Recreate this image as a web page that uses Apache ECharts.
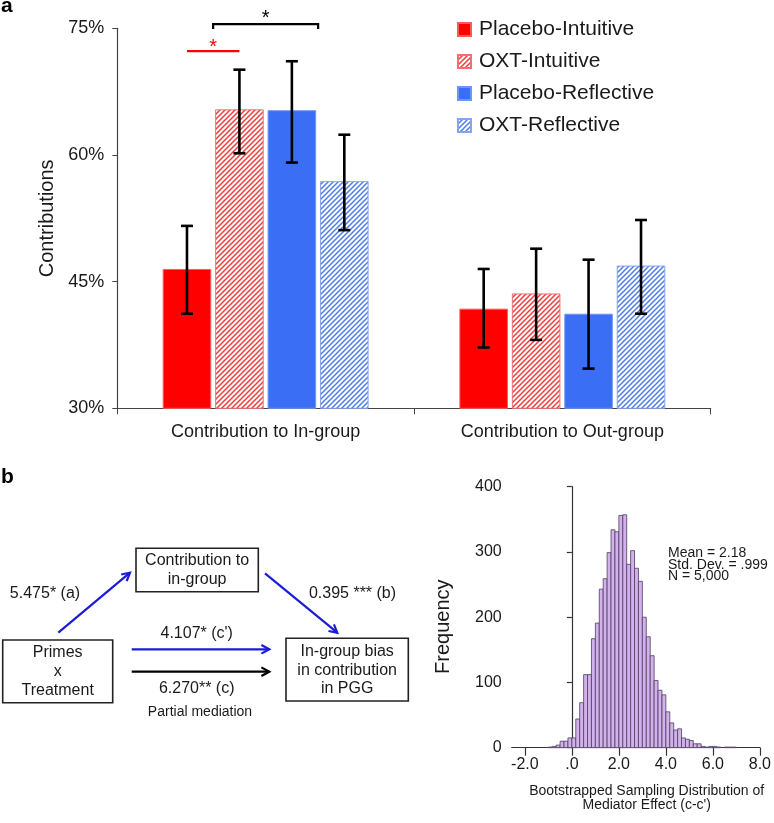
<!DOCTYPE html>
<html><head><meta charset="utf-8">
<script src="https://cdn.jsdelivr.net/npm/echarts@6/dist/echarts.min.js"></script>
<style>html,body{margin:0;padding:0;background:#fff}#c{width:774px;height:823px}</style>
</head><body><div id="c"></div>
<script>
// ---------- Panel a data ----------
const groups = ['Contribution to In-group', 'Contribution to Out-group'];
const seriesNames = ['Placebo-Intuitive', 'OXT-Intuitive', 'Placebo-Reflective', 'OXT-Reflective'];
const placeboIntuitive = [46.5, 41.8];
const oxtIntuitive = [65.4, 43.6];
const placeboReflective = [65.3, 41.2];
const oxtReflective = [56.9, 46.9];
const placeboIntuitiveLow = [41.2, 37.2];
const placeboIntuitiveHigh = [51.6, 46.5];
const oxtIntuitiveLow = [60.2, 38.1];
const oxtIntuitiveHigh = [70.1, 48.9];
const placeboReflectiveLow = [59.1, 34.7];
const placeboReflectiveHigh = [71.1, 47.6];
const oxtReflectiveLow = [51.1, 41.2];
const oxtReflectiveHigh = [62.4, 52.3];
const yTicksA = [30, 45, 60, 75];

// ---------- Panel b histogram data ----------
const histBinStart = -1;
const histBinWidth = 1 / 6;
const histCounts = [1, 2, 4, 10, 10, 15, 15, 44, 69, 112, 112, 167, 191, 243, 259, 299, 334, 331,
  356, 357, 281, 302, 275, 255, 200, 170, 141, 103, 88, 81, 55, 38, 27, 29, 15, 13, 11, 6, 6,
  2, 1, 2, 2, 1, 0, 1, 1, 1];
const histTickValues = [-2, 0, 2, 4, 6, 8];
const histTickLabels = ['-2.0', '.0', '2.0', '4.0', '6.0', '8.0'];
const histYTicks = [0, 100, 200, 300, 400];

const FONT = "'Liberation Sans', Arial, sans-serif";
const TXT = '#1a1a1a';
const RED = '#ff0000', BLUE = '#3a6ef5';

function hatch(color) {
  const s = 5, cv = document.createElement('canvas');
  cv.width = s; cv.height = s;
  const g = cv.getContext('2d');
  g.fillStyle = '#ffffff'; g.fillRect(0, 0, s, s);
  g.strokeStyle = color; g.lineWidth = 1.5;
  g.beginPath();
  g.moveTo(0, s); g.lineTo(s, 0);
  g.moveTo(-1, 1); g.lineTo(1, -1);
  g.moveTo(s - 1, s + 1); g.lineTo(s + 1, s - 1);
  g.stroke();
  return cv;
}

const CAT_GAP = 0.306, BAR_GAP = 0.08, NSER = 4;
function barPos(api, catIdx, serIdx) {
  const band = api.size([1, 0])[0];
  const inner = band * (1 - CAT_GAP);
  const w = inner / (NSER + (NSER - 1) * BAR_GAP);
  const c = api.coord([catIdx, 0])[0];
  return { x: c - inner / 2 + serIdx * w * (1 + BAR_GAP) + w / 2, w: w };
}

const values = [placeboIntuitive, oxtIntuitive, placeboReflective, oxtReflective];
const lows = [placeboIntuitiveLow, oxtIntuitiveLow, placeboReflectiveLow, oxtReflectiveLow];
const highs = [placeboIntuitiveHigh, oxtIntuitiveHigh, placeboReflectiveHigh, oxtReflectiveHigh];
const errData = [];
for (let s = 0; s < 4; s++) for (let c = 0; c < groups.length; c++) errData.push([c, s, lows[s][c], highs[s][c]]);

const styles = [
  { color: RED, borderColor: '#ff5a5a', borderWidth: 1 },
  { color: { image: hatch('#ee3b3b'), repeat: 'repeat' }, borderColor: '#f07070', borderWidth: 1 },
  { color: BLUE, borderColor: '#6f95f7', borderWidth: 1 },
  { color: { image: hatch('#4f7be6'), repeat: 'repeat' }, borderColor: '#86a5f0', borderWidth: 1 }
];

const barSeries = seriesNames.map((n, i) => ({
  name: n, type: 'bar', xAxisIndex: 0, yAxisIndex: 0,
  data: values[i], barCategoryGap: (CAT_GAP * 100) + '%', barGap: (BAR_GAP * 100) + '%',
  itemStyle: styles[i], emphasis: { disabled: true }
}));

// significance markers: [cat, fromSeries, toSeries, yValue, color, kind]
const sigMarks = [[0, 1, 2, 75.5, '#000', 'bracket'], [0, 0, 1, 72.3, RED, 'line']];

const histData = histCounts.map((c, i) => [histBinStart + i * histBinWidth, histBinStart + (i + 1) * histBinWidth, c]).filter(d => d[2] > 0);

function arrow(x1, y1, x2, y2, color) {
  const ang = Math.atan2(y2 - y1, x2 - x1), L = 9, a = 0.5;
  return [
    { type: 'line', shape: { x1, y1, x2, y2 }, style: { stroke: color, lineWidth: 2.2 } },
    { type: 'polyline', shape: { points: [[x2 - L * Math.cos(ang - a), y2 - L * Math.sin(ang - a)], [x2, y2], [x2 - L * Math.cos(ang + a), y2 - L * Math.sin(ang + a)]] },
      style: { stroke: color, lineWidth: 2.2, fill: null } }
  ];
}
function box(x, y, w, h, text, cy, lh) {
  return [
    { type: 'rect', shape: { x, y, width: w, height: h }, style: { fill: '#fff', stroke: '#222', lineWidth: 1.6 } },
    { type: 'text', x: x + w / 2, y: cy, style: { text, fill: TXT, font: '16px ' + FONT, align: 'center', verticalAlign: 'middle', lineHeight: lh } }
  ];
}
function label(x, y, text, size) {
  return { type: 'text', x, y, style: { text, fill: TXT, font: (size || 16) + 'px ' + FONT, align: 'center', verticalAlign: 'middle' } };
}
const DBLUE = '#1c1cd8';
const graphics = [
  { type: 'text', x: 1, y: 6.7, style: { text: 'a', fill: '#000', font: 'bold 21px ' + FONT, verticalAlign: 'middle' } },
  { type: 'text', x: 1, y: 477.5, style: { text: 'b', fill: '#000', font: 'bold 21px ' + FONT, verticalAlign: 'middle' } },
  ...box(136, 548.3, 122.3, 43.4, 'Contribution to\nin-group', 570, 18.6),
  ...box(2.7, 640, 110, 62.7, 'Primes\nx\nTreatment', 671.5, 19.2),
  ...box(286, 638.3, 122.3, 62.7, 'In-group bias\nin contribution\nin PGG', 670.3, 18.3),
  ...arrow(58.3, 632.7, 130, 572.7, DBLUE),
  ...arrow(265, 573.3, 337.3, 632.7, DBLUE),
  ...arrow(131.7, 649.3, 269.3, 649.3, DBLUE),
  ...arrow(131.7, 671.7, 269.3, 671.7, '#000'),
  label(45, 593.3, '5.475* (a)'),
  label(352.5, 593.3, '0.395 *** (b)'),
  label(196.7, 633.3, "4.107* (c')"),
  label(196.7, 688.3, '6.270** (c)'),
  label(200, 712.3, 'Partial mediation', 14),
  { type: 'text', x: 443.3, y: 626.7, rotation: Math.PI / 2, style: { text: 'Frequency', fill: TXT, font: '20px ' + FONT, align: 'center', verticalAlign: 'middle' } },
  { type: 'text', x: 646.7, y: 798, style: { text: "Bootstrapped Sampling Distribution of\nMediator Effect (c-c')", fill: TXT, font: '14px ' + FONT, align: 'center', verticalAlign: 'middle', lineHeight: 14.5 } },
  { type: 'text', x: 668, y: 547.5, style: { text: 'Mean = 2.18\nStd. Dev. = .999\nN = 5,000', fill: TXT, font: '14px ' + FONT, align: 'left', verticalAlign: 'top', lineHeight: 11.5 } }
];

const option = {
  animation: false,
  backgroundColor: '#fff',
  textStyle: { fontFamily: FONT },
  legend: {
    orient: 'vertical', left: 452, top: 14, itemWidth: 13, itemHeight: 13, itemGap: 11,
    icon: 'rect', data: seriesNames, selectedMode: false,
    textStyle: { fontSize: 21, color: TXT, fontFamily: FONT, padding: [0, 0, 0, 3] }
  },
  grid: [
    { left: 117.3, top: 28.3, right: 63.3, bottom: 414.7 },
    { left: 511.7, top: 486.7, right: 13.3, bottom: 75.3 }
  ],
  xAxis: [
    { type: 'category', gridIndex: 0, data: groups,
      axisLine: { lineStyle: { color: '#444', width: 1.2 } },
      axisTick: { show: true, length: 6, lineStyle: { color: '#444' } },
      axisLabel: { fontSize: 18, color: TXT, margin: 15, fontFamily: FONT } },
    { type: 'value', gridIndex: 1, min: -2.56, max: 8,
      splitLine: { show: false },
      axisLine: { show: true, lineStyle: { color: '#333', width: 1.2 } },
      axisTick: { show: true, length: 8, customValues: histTickValues, lineStyle: { color: '#333', width: 1.2 } },
      axisLabel: { fontSize: 16, color: TXT, margin: 9, fontFamily: FONT, customValues: histTickValues,
        formatter: v => histTickLabels[histTickValues.indexOf(v)] } }
  ],
  yAxis: [
    { type: 'value', gridIndex: 0, min: yTicksA[0], max: yTicksA[yTicksA.length - 1], interval: 15,
      name: 'Contributions', nameLocation: 'middle', nameGap: 60,
      nameTextStyle: { fontSize: 20, color: TXT, fontFamily: FONT },
      splitLine: { show: false },
      axisLine: { show: true, lineStyle: { color: '#444', width: 1.2 } },
      axisTick: { show: true, length: 5, lineStyle: { color: '#444' } },
      axisLabel: { fontSize: 18, color: TXT, margin: 13, formatter: '{value}%', fontFamily: FONT } },
    { type: 'value', gridIndex: 1, min: histYTicks[0], max: histYTicks[histYTicks.length - 1], interval: 100,
      splitLine: { show: false },
      axisLine: { show: true, lineStyle: { color: '#333', width: 1.2 } },
      axisTick: { show: true, length: 5, lineStyle: { color: '#333', width: 1.2 } },
      axisLabel: { fontSize: 16, color: TXT, margin: 10, fontFamily: FONT } }
  ],
  series: [
    ...barSeries,
    { type: 'custom', xAxisIndex: 0, yAxisIndex: 0, data: errData, z: 5, silent: true,
      encode: { x: 0, y: [2, 3] },
      renderItem: function (params, api) {
        const p = barPos(api, api.value(0), api.value(1));
        const yl = api.coord([api.value(0), api.value(2)])[1];
        const yh = api.coord([api.value(0), api.value(3)])[1];
        const cw = 6, st = { stroke: '#000', lineWidth: 2.6 };
        return { type: 'group', children: [
          { type: 'line', shape: { x1: p.x, y1: yl, x2: p.x, y2: yh }, style: st },
          { type: 'line', shape: { x1: p.x - cw, y1: yl, x2: p.x + cw, y2: yl }, style: st },
          { type: 'line', shape: { x1: p.x - cw, y1: yh, x2: p.x + cw, y2: yh }, style: st }
        ] };
      } },
    { type: 'custom', xAxisIndex: 0, yAxisIndex: 0, data: sigMarks, z: 6, silent: true, clip: false,
      encode: { x: 0, y: 3 },
      renderItem: function (params, api) {
        const m = sigMarks[params.dataIndex];
        const a = barPos(api, m[0], m[1]), b = barPos(api, m[0], m[2]);
        const y = api.coord([m[0], m[3]])[1];
        const children = [];
        if (m[5] === 'bracket') {
          const x1 = a.x - a.w / 2 - 2, x2 = b.x + b.w / 2 + 2;
          children.push({ type: 'polyline', shape: { points: [[x1, y + 5], [x1, y], [x2, y], [x2, y + 5]] }, style: { stroke: m[4], lineWidth: 2.2, fill: null } });
          children.push({ type: 'text', x: (x1 + x2) / 2, y: y - 6, style: { text: '*', fill: m[4], font: '20px ' + FONT, align: 'center', verticalAlign: 'middle' } });
        } else {
          children.push({ type: 'line', shape: { x1: a.x, y1: y, x2: b.x, y2: y }, style: { stroke: m[4], lineWidth: 2.2 } });
          children.push({ type: 'text', x: (a.x + b.x) / 2, y: y - 4, style: { text: '*', fill: m[4], font: '20px ' + FONT, align: 'center', verticalAlign: 'middle' } });
        }
        return { type: 'group', children };
      } },
    { type: 'custom', xAxisIndex: 1, yAxisIndex: 1, data: histData, silent: true,
      encode: { x: [0, 1], y: 2 },
      renderItem: function (params, api) {
        const p0 = api.coord([api.value(0), api.value(2)]);
        const p1 = api.coord([api.value(1), 0]);
        return { type: 'rect', shape: { x: p0[0], y: p0[1], width: p1[0] - p0[0], height: p1[1] - p0[1] },
          style: { fill: '#d3b1ec', stroke: '#4d3f5c', lineWidth: 0.8 } };
      } }
  ],
  graphic: graphics
};
const chart = echarts.init(document.getElementById('c'), null, { renderer: 'canvas' });
chart.setOption(option);
</script></body></html>
